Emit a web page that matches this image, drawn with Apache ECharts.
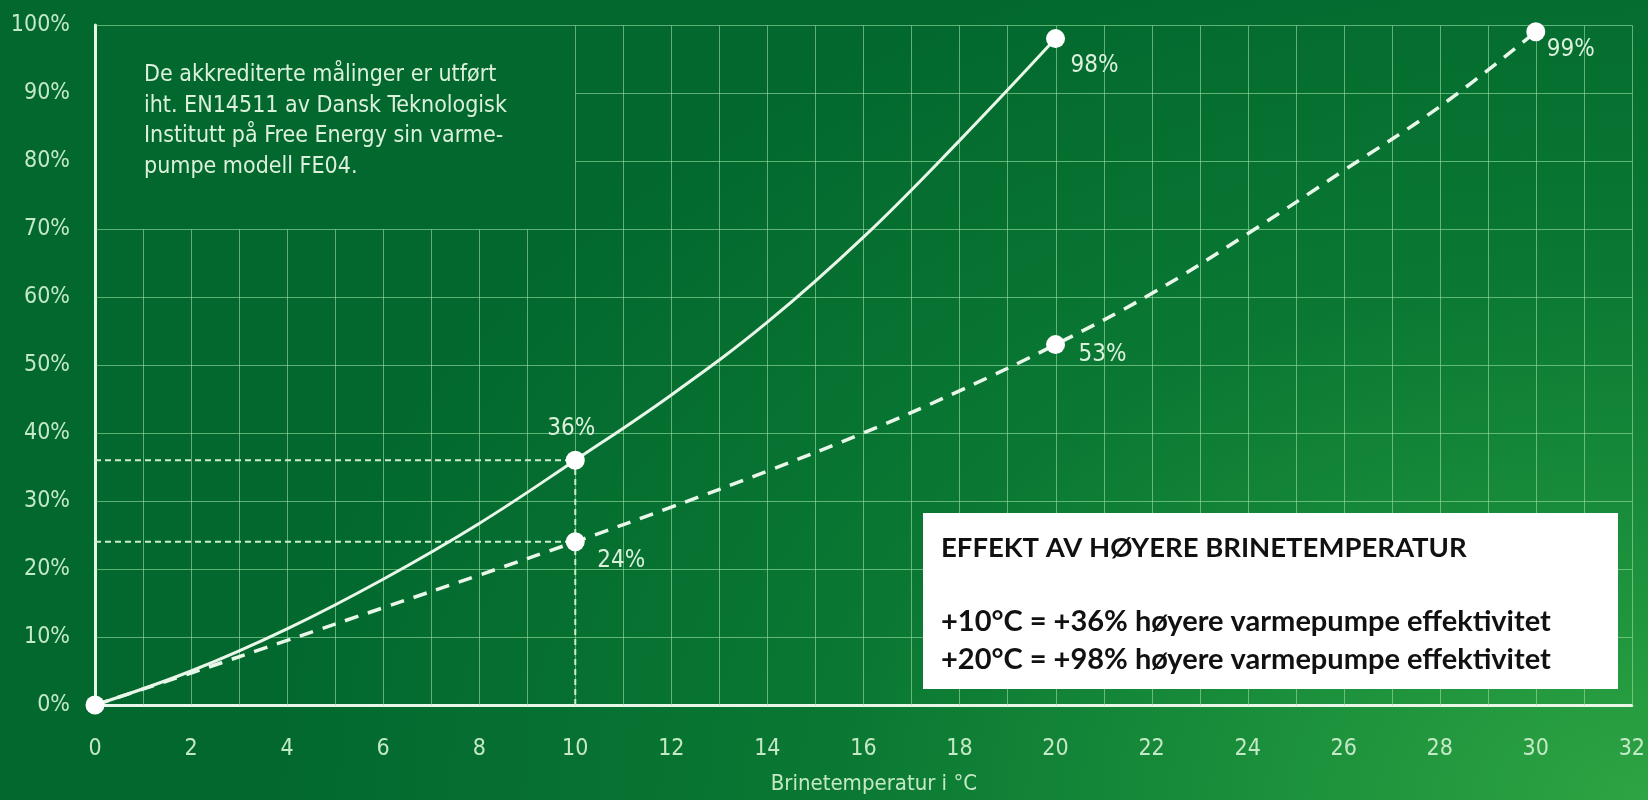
<!DOCTYPE html>
<html>
<head>
<meta charset="utf-8">
<title>Brinetemperatur og varmepumpe effektivitet</title>
<script src="https://cdn.jsdelivr.net/npm/echarts@6/dist/echarts.min.js"></script>
<style>
  html, body { margin: 0; padding: 0; width: 1648px; height: 800px; overflow: hidden; }
  body {
    background-color: #02682e;
    background-image: radial-gradient(ellipse 85% 115% at 100% 100%, #2ea443 0%, #1b8f3b 28%, #0a7833 58%, rgba(2,104,46,0) 100%);
  }
  #chart { width: 1648px; height: 800px; }
</style>
</head>
<body>
<div id="chart"></div>
<script>
// Brine temperature (°C) and efficiency gain (%) for the two curves
const solidTemps = [0, 2, 4, 6, 8, 10, 12, 14, 16, 18, 20];
const solidGain = [0, 5, 11.2, 18.5, 26.7, 36, 45.6, 56.3, 68.8, 83, 98];

const dashedTemps = [0, 2, 4, 6, 8, 10, 12, 14, 16, 18, 20, 22, 24, 26, 28, 30];
const dashedGain = [0, 4.7, 9.5, 14.3, 19.1, 24, 29.1, 34.4, 40, 46.2, 53, 60.5, 69.3, 78.6, 88, 99];

// Highlighted measurement points [temperature, gain]
const solidMarks = [[0, 0], [10, 36], [20, 98]];
const dashedMarks = [[10, 24], [20, 53], [30, 99]];

// Axis ranges and tick steps
const xRange = [0, 32];
const xTickStep = 2;
const yRange = [0, 100];
const yTickStep = 10;

const noteLines = [
  'De akkrediterte målinger er utført',
  'iht. EN14511 av Dansk Teknologisk',
  'Institutt på Free Energy sin varme-',
  'pumpe modell FE04.'
];
const boxTitle = 'EFFEKT AV HØYERE BRINETEMPERATUR';
const boxLines = [
  '+10°C = +36% høyere varmepumpe effektivitet',
  '+20°C = +98% høyere varmepumpe effektivitet'
];
const xAxisTitle = 'Brinetemperatur i °C';

// ---- styling ----
const FONT = '"DejaVu Sans Condensed", "Liberation Sans Narrow", "DejaVu Sans", sans-serif';
const BOX_FONT = 'Lato, "Open Sans", sans-serif';
const AXIS_TEXT = '#c4e9c6';
const LABEL_TEXT = '#dcf1dc';
const LINE_WHITE = '#e9f7e9';
const GRID_LINE = 'rgba(150, 222, 160, 0.62)';

// grid is left open behind the note in the upper-left corner
const noteArea = { xMax: 10, yMin: 70 };

// grid segments [x1, y1, x2, y2]
const gridSegments = [];
for (let x = xRange[0] + 1; x <= xRange[1]; x++) {
  gridSegments.push([x, yRange[0], x, x < noteArea.xMax ? noteArea.yMin : yRange[1]]);
}
for (let y = yRange[0] + yTickStep; y <= yRange[1]; y += yTickStep) {
  const startX = (y > noteArea.yMin && y < yRange[1]) ? noteArea.xMax : xRange[0];
  gridSegments.push([startX, y, xRange[1], y]);
}

// guide lines from the 10 °C points back to the axes
const p36 = solidMarks[1];
const p24 = dashedMarks[0];
const guideLines = [
  [[xRange[0], p36[1]], p36],
  [[xRange[0], p24[1]], p24],
  [[p36[0], yRange[0]], p36]
];

// where each value label sits relative to its point
const solidLabelPlacement = [
  null,
  { align: 'center', offset: [-4, -31] },
  { align: 'left', offset: [15, 27] }
];
const dashedLabelPlacement = [
  { align: 'left', offset: [22, 19] },
  { align: 'left', offset: [23, 10] },
  { align: 'left', offset: [11, 18] }
];

function markData(points, placements) {
  return points.map((p, i) => {
    const pl = placements[i];
    return {
      value: p,
      label: pl ? {
        show: true,
        position: 'inside',
        align: pl.align,
        verticalAlign: 'middle',
        offset: pl.offset,
        formatter: () => p[1] + '%',
        color: LABEL_TEXT,
        fontFamily: FONT,
        fontSize: 24
      } : { show: false }
    };
  });
}

const zip = (xs, ys) => xs.map((x, i) => [x, ys[i]]);

const chart = echarts.init(document.getElementById('chart'), null, { renderer: 'canvas' });

const boxText = (text, y, size) => ({
  type: 'text',
  x: 941,
  y: y,
  z: 21,
  style: {
    text: text,
    fill: '#111111',
    font: 'bold ' + size + 'px ' + BOX_FONT,
    verticalAlign: 'middle'
  }
});

const option = {
  backgroundColor: 'transparent',
  animation: false,
  grid: { left: 95, right: 16, top: 25, bottom: 95 },
  xAxis: {
    type: 'value',
    min: xRange[0],
    max: xRange[1],
    interval: xTickStep,
    name: xAxisTitle,
    nameLocation: 'middle',
    nameGap: 68,
    nameTextStyle: { color: AXIS_TEXT, fontFamily: FONT, fontSize: 22, padding: [0, 0, 0, 21] },
    axisLine: { show: true, onZero: false, lineStyle: { color: LINE_WHITE, width: 3 } },
    axisTick: { show: false },
    splitLine: { show: false },
    axisLabel: { color: AXIS_TEXT, fontFamily: FONT, fontSize: 23, margin: 33 }
  },
  yAxis: {
    type: 'value',
    min: yRange[0],
    max: yRange[1],
    interval: yTickStep,
    axisLine: { show: true, onZero: false, lineStyle: { color: LINE_WHITE, width: 3 } },
    axisTick: { show: false },
    splitLine: { show: false },
    axisLabel: { color: AXIS_TEXT, fontFamily: FONT, fontSize: 23, margin: 25, formatter: '{value}%' }
  },
  graphic: [
    {
      type: 'text',
      left: 144,
      top: 60,
      z: 10,
      style: {
        text: noteLines.join('\n'),
        fill: LABEL_TEXT,
        font: '23px ' + FONT,
        lineHeight: 30.5
      }
    },
    {
      type: 'rect',
      shape: { x: 923, y: 513, width: 695, height: 176 },
      style: { fill: '#ffffff' },
      z: 20
    },
    boxText(boxTitle, 548, 27.5),
    boxText(boxLines[0], 622, 29),
    boxText(boxLines[1], 660, 29)
  ],
  series: [
    {
      // background grid
      type: 'custom',
      silent: true,
      z: 1,
      data: gridSegments,
      renderItem: function (params, api) {
        const a = api.coord([api.value(0), api.value(1)]);
        const b = api.coord([api.value(2), api.value(3)]);
        const snap = v => Math.round(v) + 0.5;
        return {
          type: 'line',
          shape: { x1: snap(a[0]), y1: snap(a[1]), x2: snap(b[0]), y2: snap(b[1]) },
          style: { stroke: GRID_LINE, lineWidth: 1 }
        };
      }
    },
    ...guideLines.map(seg => ({
      type: 'line',
      silent: true,
      z: 2,
      data: seg,
      showSymbol: false,
      lineStyle: { color: '#cdeecd', width: 2, type: [6, 4] }
    })),
    {
      type: 'line',
      name: 'solid',
      z: 3,
      data: zip(solidTemps, solidGain),
      smooth: 0.4,
      showSymbol: false,
      lineStyle: { color: LINE_WHITE, width: 3 }
    },
    {
      type: 'line',
      name: 'dashed',
      z: 3,
      data: zip(dashedTemps, dashedGain),
      smooth: 0.4,
      showSymbol: false,
      lineStyle: { color: LINE_WHITE, width: 3.5, type: [14, 10] }
    },
    {
      type: 'scatter',
      z: 5,
      symbolSize: 19,
      itemStyle: { color: '#ffffff', opacity: 1 },
      data: markData(solidMarks, solidLabelPlacement)
    },
    {
      type: 'scatter',
      z: 5,
      symbolSize: 19,
      itemStyle: { color: '#ffffff', opacity: 1 },
      data: markData(dashedMarks, dashedLabelPlacement)
    }
  ]
};

chart.setOption(option);
</script>
</body>
</html>
